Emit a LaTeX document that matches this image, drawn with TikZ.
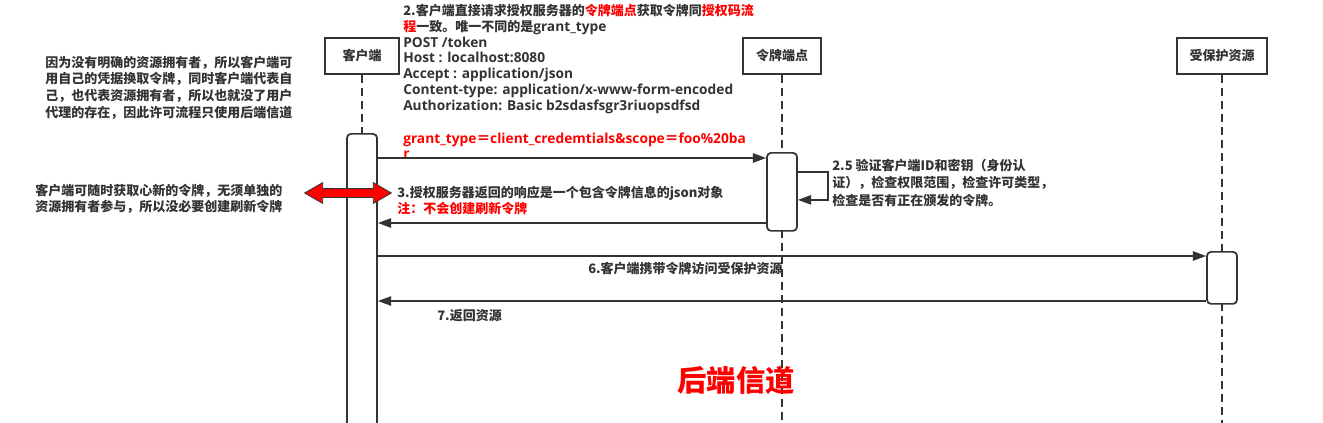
\documentclass[tikz,border=0pt]{standalone}
\usepackage{fontspec}
\setmainfont{Open Sans}
\newfontfamily\cjk{Noto Sans CJK SC}
\usetikzlibrary{arrows.meta,positioning,calc,shapes.arrows}
\definecolor{ink}{HTML}{333333}
\definecolor{hot}{HTML}{FF0000}

\begin{document}
\begin{tikzpicture}[x=0.75pt,y=-0.75pt,
  every node/.style={font=\cjk\bfseries\fontsize{9.75}{12}\selectfont,text=ink,inner sep=0pt},
  head/.style={draw=ink,line width=1.5pt,minimum height=27pt},
  act/.style={draw=ink,line width=1.3pt,rounded corners=3pt,minimum width=22.5pt,fill=white,anchor=north},
  life/.style={draw=ink,line width=1.7pt,dash pattern=on 6pt off 3.75pt},
  msg/.style={draw=ink,line width=1.3pt,-{Triangle[length=10pt,width=7pt]}}]
\useasboundingbox (0,0) rectangle (1323,422);
\coordinate (m2) at (0,158);
\coordinate (m3) at (0,223);
\coordinate (m6) at (0,256);
\coordinate (m7) at (0,301);

% participants
\node[head,minimum width=56pt] (client) at (362,56) {客户端};
\node[head,minimum width=59pt] (token) at (782,56) {令牌端点};
\node[head,minimum width=67pt] (prot) at (1222,56) {受保护资源};

% lifelines
\draw[life] (client.south) -- (362,133);
\draw[life] (token.south) -- (782,152) (782,230) -- (782,430);
\draw[life] (prot.south) -- (1222,251) (1222,303) -- (1222,430);

% activations
\node[act,minimum height=225pt] (cliact) at (362,133) {};
\node[act,minimum height=58.5pt] (tokact) at (782,152) {};
\node[act,minimum height=39pt] (protact) at (1222,251) {};

% request text (clipped like the source)
\begin{scope}
\clip (390,120) rectangle (790,157);
\node[anchor=base west,align=left,text=hot,font=\rmfamily\bfseries\fontsize{10.3}{11.25}\selectfont] (body) at (403,158)
  {grant\_type{\cjk ＝}client\_credemtials\&scope{\cjk ＝}foo\%20ba\\r};
\end{scope}

% messages
\draw[msg] (cliact.east |- m2) -- (tokact.west |- m2);
\draw[msg] ($(tokact.east)+(0,-20)$) -- ++(30,0) |- ($(tokact.east)+(0,8)$);
\draw[msg] (tokact.west |- m3) -- (cliact.east |- m3);
\draw[msg] (cliact.east |- m6) -- (protact.west |- m6);
\draw[msg] (protact.west |- m7) -- (cliact.east |- m7);

\node[double arrow,draw=ink,fill=hot,line width=0.6pt,inner xsep=0pt,inner ysep=3pt,minimum height=65pt,
  double arrow head extend=4.5pt,double arrow tip angle=60] (both) at (348,193) {};

% texts
\node[anchor=base west,align=left,font=\cjk\bfseries\fontsize{9.75}{11.8}\selectfont] (req) at (403,110)
  {2.客户端直接请求授权服务器的\textcolor{hot}{令牌端点}获取令牌同\textcolor{hot}{授权码流}\\
   \textcolor{hot}{程}一致。唯一不同的是{\rmfamily\fontsize{10.3}{11.8}\selectfont grant\_type}\\
   {\rmfamily\fontsize{10.3}{11.8}\selectfont POST /token}\\
   {\rmfamily\fontsize{10.3}{11.8}\selectfont Host : localhost:8080}\\
   {\rmfamily\fontsize{10.3}{11.8}\selectfont Accept : application/json}\\
   {\rmfamily\fontsize{10.3}{11.8}\selectfont Content-type: application/x-www-form-encoded}\\
   {\rmfamily\fontsize{10.3}{11.8}\selectfont Authorization: Basic b2sdasfsgr3riuopsdfsd}};
\node[anchor=base west,align=left,font=\cjk\bfseries\fontsize{9.75}{12.4}\selectfont] (why) at (45,117)
  {因为没有明确的资源拥有者，所以客户端可\\用自己的凭据换取令牌，同时客户端代表自\\己，也代表资源拥有者，所以也就没了用户\\代理的存在，因此许可流程只使用后端信道};
\node[anchor=base west,align=left] (norefresh) at (35,211)
  {客户端可随时获取心新的令牌，无须单独的\\资源拥有者参与，所以没必要创建刷新令牌};
\node[anchor=base west,align=left,font=\cjk\bfseries\fontsize{9.75}{13}\selectfont] (check) at (832,205)
  {2.5 验证客户端ID和密钥（身份认\\证），检查权限范围，检查许可类型，\\检查是否有正在颁发的令牌。};
\node[anchor=base west,align=left] (resp) at (397,213)
  {3.授权服务器返回的响应是一个包含令牌信息的json对象\\\textcolor{hot}{注：不会创建刷新令牌}};
\node[anchor=base east] (use) at (783,273) {6.客户端携带令牌访问受保护资源};
\node[anchor=base west] (ret) at (437,320) {7.返回资源};
\node[text=hot,font=\cjk\bfseries\fontsize{22}{26}\selectfont] (chan) at (736,380) {后端信道};
\end{tikzpicture}
\end{document}
